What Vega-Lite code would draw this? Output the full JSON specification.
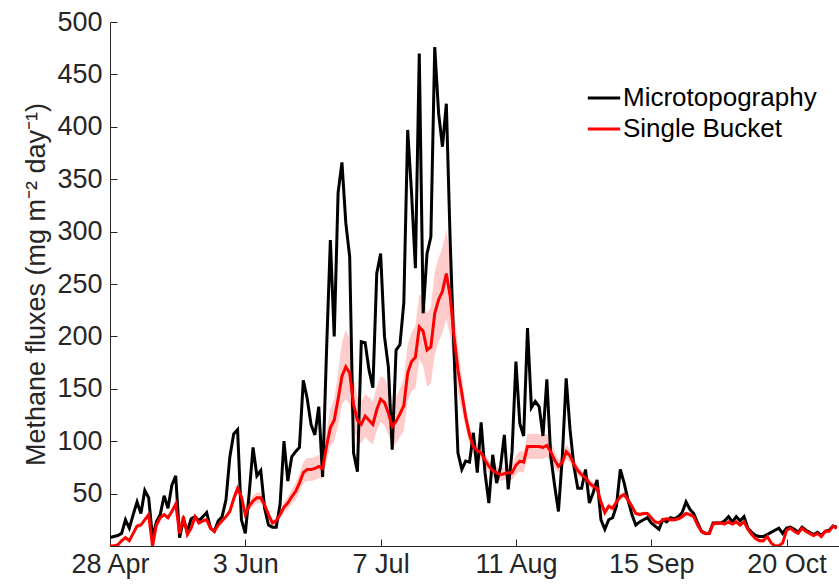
{
  "$schema": "https://vega.github.io/schema/vega-lite/v6.json",
  "width": 729,
  "height": 524,
  "autosize": {"type": "none"},
  "padding": {"left": 110, "top": 22, "right": 0, "bottom": 41},
  "background": "white",
  "config": {
    "view": {"stroke": null},
    "font": "Liberation Sans",
    "axis": {
      "grid": false,
      "domainColor": "#262626",
      "domainWidth": 1,
      "tickColor": "#262626",
      "tickSize": -7,
      "labelColor": "#262626",
      "labelFont": "Liberation Sans",
      "labelFontSize": 27,
      "labelFlush": false,
      "titleFont": "Liberation Sans",
      "titleFontSize": 27,
      "titleFontWeight": "normal",
      "titleColor": "#262626"
    }
  },
  "data": {"values": [
    {"d":"2015-04-28","m":8,"s":0,"lo":0,"hi":2},
    {"d":"2015-04-29","m":9,"s":0,"lo":0,"hi":2},
    {"d":"2015-04-30","m":10,"s":1,"lo":0,"hi":3},
    {"d":"2015-05-01","m":12,"s":5,"lo":3,"hi":7},
    {"d":"2015-05-02","m":25,"s":8,"lo":6,"hi":10},
    {"d":"2015-05-03","m":17,"s":5,"lo":3,"hi":7},
    {"d":"2015-05-04","m":30,"s":12,"lo":10,"hi":14},
    {"d":"2015-05-05","m":42,"s":19,"lo":17,"hi":21},
    {"d":"2015-05-06","m":31,"s":20,"lo":18,"hi":22},
    {"d":"2015-05-07","m":53,"s":25,"lo":23,"hi":27},
    {"d":"2015-05-08","m":46,"s":30,"lo":28,"hi":32},
    {"d":"2015-05-09","m":8,"s":0,"lo":0,"hi":2},
    {"d":"2015-05-10","m":23,"s":20,"lo":18,"hi":22},
    {"d":"2015-05-11","m":30,"s":27,"lo":25,"hi":29},
    {"d":"2015-05-12","m":48,"s":30,"lo":28,"hi":32},
    {"d":"2015-05-13","m":36,"s":27,"lo":25,"hi":29},
    {"d":"2015-05-14","m":58,"s":33,"lo":31,"hi":35},
    {"d":"2015-05-15","m":67,"s":40,"lo":38,"hi":42},
    {"d":"2015-05-16","m":8,"s":12,"lo":10,"hi":14},
    {"d":"2015-05-17","m":25,"s":28,"lo":26,"hi":30},
    {"d":"2015-05-18","m":14,"s":11,"lo":9,"hi":13},
    {"d":"2015-05-19","m":26,"s":17,"lo":15,"hi":19},
    {"d":"2015-05-20","m":28,"s":28,"lo":26,"hi":30},
    {"d":"2015-05-21","m":24,"s":22,"lo":20,"hi":24},
    {"d":"2015-05-22","m":28,"s":24,"lo":22,"hi":26},
    {"d":"2015-05-23","m":32,"s":25,"lo":23,"hi":27},
    {"d":"2015-05-24","m":17,"s":17,"lo":15,"hi":19},
    {"d":"2015-05-25","m":14,"s":14,"lo":12,"hi":16},
    {"d":"2015-05-26","m":24,"s":20,"lo":18,"hi":22},
    {"d":"2015-05-27","m":28,"s":24,"lo":22,"hi":26},
    {"d":"2015-05-28","m":44,"s":28,"lo":26,"hi":30},
    {"d":"2015-05-29","m":85,"s":33,"lo":29,"hi":37},
    {"d":"2015-05-30","m":107,"s":45,"lo":41,"hi":49},
    {"d":"2015-05-31","m":111,"s":55,"lo":50,"hi":60},
    {"d":"2015-06-01","m":25,"s":47,"lo":43,"hi":51},
    {"d":"2015-06-02","m":12,"s":30,"lo":26,"hi":34},
    {"d":"2015-06-03","m":50,"s":38,"lo":34,"hi":42},
    {"d":"2015-06-04","m":94,"s":43,"lo":38,"hi":48},
    {"d":"2015-06-05","m":67,"s":46,"lo":41,"hi":51},
    {"d":"2015-06-06","m":72,"s":46,"lo":41,"hi":51},
    {"d":"2015-06-07","m":36,"s":39,"lo":35,"hi":43},
    {"d":"2015-06-08","m":20,"s":30,"lo":27,"hi":33},
    {"d":"2015-06-09","m":18,"s":22,"lo":19,"hi":25},
    {"d":"2015-06-10","m":18,"s":24,"lo":21,"hi":27},
    {"d":"2015-06-11","m":40,"s":30,"lo":27,"hi":33},
    {"d":"2015-06-12","m":100,"s":37,"lo":32,"hi":42},
    {"d":"2015-06-13","m":62,"s":41,"lo":35,"hi":47},
    {"d":"2015-06-14","m":85,"s":47,"lo":40,"hi":54},
    {"d":"2015-06-15","m":90,"s":52,"lo":44,"hi":60},
    {"d":"2015-06-16","m":94,"s":60,"lo":51,"hi":69},
    {"d":"2015-06-17","m":158,"s":70,"lo":60,"hi":80},
    {"d":"2015-06-18","m":141,"s":73,"lo":62,"hi":84},
    {"d":"2015-06-19","m":116,"s":73,"lo":62,"hi":84},
    {"d":"2015-06-20","m":106,"s":74,"lo":63,"hi":85},
    {"d":"2015-06-21","m":133,"s":76,"lo":65,"hi":87},
    {"d":"2015-06-22","m":66,"s":74,"lo":64,"hi":84},
    {"d":"2015-06-23","m":185,"s":95,"lo":80,"hi":110},
    {"d":"2015-06-24","m":292,"s":113,"lo":95,"hi":131},
    {"d":"2015-06-25","m":200,"s":120,"lo":100,"hi":140},
    {"d":"2015-06-26","m":337,"s":140,"lo":115,"hi":165},
    {"d":"2015-06-27","m":366,"s":162,"lo":135,"hi":195},
    {"d":"2015-06-28","m":308,"s":171,"lo":140,"hi":206},
    {"d":"2015-06-29","m":276,"s":165,"lo":135,"hi":198},
    {"d":"2015-06-30","m":89,"s":135,"lo":112,"hi":160},
    {"d":"2015-07-01","m":71,"s":120,"lo":100,"hi":142},
    {"d":"2015-07-02","m":195,"s":116,"lo":98,"hi":138},
    {"d":"2015-07-03","m":194,"s":124,"lo":104,"hi":145},
    {"d":"2015-07-04","m":168,"s":120,"lo":100,"hi":142},
    {"d":"2015-07-05","m":151,"s":116,"lo":97,"hi":138},
    {"d":"2015-07-06","m":260,"s":130,"lo":110,"hi":152},
    {"d":"2015-07-07","m":279,"s":140,"lo":118,"hi":162},
    {"d":"2015-07-08","m":200,"s":137,"lo":115,"hi":160},
    {"d":"2015-07-09","m":171,"s":127,"lo":106,"hi":150},
    {"d":"2015-07-10","m":92,"s":114,"lo":95,"hi":136},
    {"d":"2015-07-11","m":187,"s":119,"lo":98,"hi":142},
    {"d":"2015-07-12","m":192,"s":126,"lo":104,"hi":150},
    {"d":"2015-07-13","m":232,"s":134,"lo":110,"hi":160},
    {"d":"2015-07-14","m":397,"s":165,"lo":138,"hi":192},
    {"d":"2015-07-15","m":337,"s":176,"lo":148,"hi":204},
    {"d":"2015-07-16","m":265,"s":180,"lo":150,"hi":210},
    {"d":"2015-07-17","m":470,"s":209,"lo":178,"hi":240},
    {"d":"2015-07-18","m":222,"s":205,"lo":172,"hi":238},
    {"d":"2015-07-19","m":279,"s":187,"lo":152,"hi":222},
    {"d":"2015-07-20","m":295,"s":190,"lo":155,"hi":228},
    {"d":"2015-07-21","m":476,"s":222,"lo":182,"hi":262},
    {"d":"2015-07-22","m":413,"s":235,"lo":195,"hi":275},
    {"d":"2015-07-23","m":381,"s":243,"lo":203,"hi":285},
    {"d":"2015-07-24","m":422,"s":260,"lo":216,"hi":302},
    {"d":"2015-07-25","m":290,"s":238,"lo":200,"hi":276},
    {"d":"2015-07-26","m":184,"s":200,"lo":172,"hi":228},
    {"d":"2015-07-27","m":89,"s":168,"lo":146,"hi":190},
    {"d":"2015-07-28","m":73,"s":146,"lo":130,"hi":162},
    {"d":"2015-07-29","m":81,"s":123,"lo":112,"hi":134},
    {"d":"2015-07-30","m":80,"s":106,"lo":97,"hi":115},
    {"d":"2015-07-31","m":108,"s":95,"lo":87,"hi":103},
    {"d":"2015-08-01","m":70,"s":91,"lo":84,"hi":98},
    {"d":"2015-08-02","m":118,"s":89,"lo":82,"hi":96},
    {"d":"2015-08-03","m":70,"s":82,"lo":76,"hi":88},
    {"d":"2015-08-04","m":41,"s":76,"lo":70,"hi":82},
    {"d":"2015-08-05","m":87,"s":72,"lo":66,"hi":78},
    {"d":"2015-08-06","m":60,"s":70,"lo":64,"hi":76},
    {"d":"2015-08-07","m":75,"s":68,"lo":62,"hi":74},
    {"d":"2015-08-08","m":106,"s":69,"lo":63,"hi":75},
    {"d":"2015-08-09","m":54,"s":70,"lo":63,"hi":77},
    {"d":"2015-08-10","m":90,"s":70,"lo":63,"hi":77},
    {"d":"2015-08-11","m":176,"s":77,"lo":68,"hi":86},
    {"d":"2015-08-12","m":117,"s":81,"lo":71,"hi":91},
    {"d":"2015-08-13","m":105,"s":80,"lo":70,"hi":90},
    {"d":"2015-08-14","m":208,"s":95,"lo":83,"hi":107},
    {"d":"2015-08-15","m":132,"s":95,"lo":83,"hi":107},
    {"d":"2015-08-16","m":138,"s":95,"lo":83,"hi":107},
    {"d":"2015-08-17","m":133,"s":95,"lo":83,"hi":107},
    {"d":"2015-08-18","m":105,"s":94,"lo":83,"hi":105},
    {"d":"2015-08-19","m":159,"s":96,"lo":85,"hi":107},
    {"d":"2015-08-20","m":86,"s":90,"lo":80,"hi":100},
    {"d":"2015-08-21","m":58,"s":82,"lo":74,"hi":90},
    {"d":"2015-08-22","m":33,"s":76,"lo":70,"hi":82},
    {"d":"2015-08-23","m":85,"s":80,"lo":74,"hi":86},
    {"d":"2015-08-24","m":160,"s":90,"lo":83,"hi":97},
    {"d":"2015-08-25","m":111,"s":86,"lo":80,"hi":92},
    {"d":"2015-08-26","m":76,"s":78,"lo":73,"hi":83},
    {"d":"2015-08-27","m":55,"s":72,"lo":67,"hi":77},
    {"d":"2015-08-28","m":55,"s":68,"lo":64,"hi":72},
    {"d":"2015-08-29","m":73,"s":65,"lo":61,"hi":69},
    {"d":"2015-08-30","m":41,"s":60,"lo":56,"hi":64},
    {"d":"2015-08-31","m":51,"s":57,"lo":53,"hi":61},
    {"d":"2015-09-01","m":63,"s":55,"lo":52,"hi":58},
    {"d":"2015-09-02","m":25,"s":42,"lo":39,"hi":45},
    {"d":"2015-09-03","m":16,"s":32,"lo":29,"hi":35},
    {"d":"2015-09-04","m":25,"s":38,"lo":35,"hi":41},
    {"d":"2015-09-05","m":27,"s":36,"lo":33,"hi":39},
    {"d":"2015-09-06","m":38,"s":42,"lo":39,"hi":45},
    {"d":"2015-09-07","m":73,"s":47,"lo":44,"hi":50},
    {"d":"2015-09-08","m":60,"s":49,"lo":46,"hi":52},
    {"d":"2015-09-09","m":44,"s":44,"lo":41,"hi":47},
    {"d":"2015-09-10","m":30,"s":38,"lo":35,"hi":41},
    {"d":"2015-09-11","m":20,"s":31,"lo":29,"hi":33},
    {"d":"2015-09-12","m":23,"s":30,"lo":28,"hi":32},
    {"d":"2015-09-13","m":25,"s":31,"lo":29,"hi":33},
    {"d":"2015-09-14","m":27,"s":31,"lo":29,"hi":33},
    {"d":"2015-09-15","m":22,"s":27,"lo":25,"hi":29},
    {"d":"2015-09-16","m":19,"s":23,"lo":21,"hi":25},
    {"d":"2015-09-17","m":16,"s":22,"lo":20,"hi":24},
    {"d":"2015-09-18","m":25,"s":25,"lo":23,"hi":27},
    {"d":"2015-09-19","m":23,"s":26,"lo":24,"hi":28},
    {"d":"2015-09-20","m":27,"s":25,"lo":23,"hi":27},
    {"d":"2015-09-21","m":26,"s":25,"lo":23,"hi":27},
    {"d":"2015-09-22","m":28,"s":26,"lo":24,"hi":28},
    {"d":"2015-09-23","m":32,"s":28,"lo":26,"hi":30},
    {"d":"2015-09-24","m":42,"s":31,"lo":29,"hi":33},
    {"d":"2015-09-25","m":35,"s":30,"lo":28,"hi":32},
    {"d":"2015-09-26","m":31,"s":28,"lo":26,"hi":30},
    {"d":"2015-09-27","m":22,"s":20,"lo":18,"hi":22},
    {"d":"2015-09-28","m":14,"s":14,"lo":12,"hi":16},
    {"d":"2015-09-29","m":12,"s":12,"lo":10,"hi":14},
    {"d":"2015-09-30","m":12,"s":12,"lo":10,"hi":14},
    {"d":"2015-10-01","m":22,"s":21,"lo":19,"hi":23},
    {"d":"2015-10-02","m":22,"s":22,"lo":20,"hi":24},
    {"d":"2015-10-03","m":22,"s":22,"lo":20,"hi":24},
    {"d":"2015-10-04","m":24,"s":21,"lo":19,"hi":23},
    {"d":"2015-10-05","m":28,"s":23,"lo":21,"hi":25},
    {"d":"2015-10-06","m":23,"s":21,"lo":19,"hi":23},
    {"d":"2015-10-07","m":28,"s":23,"lo":21,"hi":25},
    {"d":"2015-10-08","m":24,"s":20,"lo":18,"hi":22},
    {"d":"2015-10-09","m":28,"s":23,"lo":21,"hi":25},
    {"d":"2015-10-10","m":17,"s":16,"lo":14,"hi":18},
    {"d":"2015-10-11","m":13,"s":11,"lo":9,"hi":13},
    {"d":"2015-10-12","m":10,"s":7,"lo":5,"hi":9},
    {"d":"2015-10-13","m":9,"s":5,"lo":3,"hi":7},
    {"d":"2015-10-14","m":9,"s":5,"lo":3,"hi":7},
    {"d":"2015-10-15","m":11,"s":9,"lo":7,"hi":11},
    {"d":"2015-10-16","m":13,"s":3,"lo":1,"hi":5},
    {"d":"2015-10-17","m":15,"s":0,"lo":0,"hi":2},
    {"d":"2015-10-18","m":17,"s":0,"lo":0,"hi":2},
    {"d":"2015-10-19","m":12,"s":3,"lo":1,"hi":5},
    {"d":"2015-10-20","m":17,"s":15,"lo":13,"hi":17},
    {"d":"2015-10-21","m":18,"s":17,"lo":15,"hi":19},
    {"d":"2015-10-22","m":16,"s":14,"lo":12,"hi":16},
    {"d":"2015-10-23","m":13,"s":12,"lo":10,"hi":14},
    {"d":"2015-10-24","m":18,"s":17,"lo":15,"hi":19},
    {"d":"2015-10-25","m":15,"s":14,"lo":12,"hi":16},
    {"d":"2015-10-26","m":13,"s":12,"lo":10,"hi":14},
    {"d":"2015-10-27","m":11,"s":10,"lo":8,"hi":12},
    {"d":"2015-10-28","m":13,"s":12,"lo":10,"hi":14},
    {"d":"2015-10-29","m":10,"s":9,"lo":7,"hi":11},
    {"d":"2015-10-30","m":14,"s":14,"lo":12,"hi":16},
    {"d":"2015-10-31","m":15,"s":14,"lo":12,"hi":16},
    {"d":"2015-11-01","m":19,"s":19,"lo":17,"hi":21},
    {"d":"2015-11-02","m":18,"s":17,"lo":15,"hi":19}
  ]},
  "encoding": {
    "x": {
      "field": "d",
      "type": "temporal",
      "scale": {
        "type": "utc",
        "domain": [
          {"year": 2015, "month": "apr", "date": 28, "utc": true},
          {"year": 2015, "month": "nov", "date": 2, "hours": 13, "minutes": 40, "utc": true}
        ]
      },
      "axis": {
        "title": null,
        "values": [
          {"year": 2015, "month": "apr", "date": 28, "utc": true},
          {"year": 2015, "month": "jun", "date": 2, "utc": true},
          {"year": 2015, "month": "jul", "date": 7, "utc": true},
          {"year": 2015, "month": "aug", "date": 11, "utc": true},
          {"year": 2015, "month": "sep", "date": 15, "utc": true},
          {"year": 2015, "month": "oct", "date": 20, "utc": true}
        ],
        "labelExpr": "utcmonth(datum.value) == 5 ? '3 Jun' : utcFormat(datum.value, '%-d %b')",
        "labelPadding": 12
      }
    }
  },
  "layer": [
    {
      "mark": {"type": "area", "color": "#ff0000", "opacity": 0.2, "clip": true},
      "encoding": {
        "y": {"field": "lo", "type": "quantitative"},
        "y2": {"field": "hi"}
      }
    },
    {
      "mark": {"type": "line", "strokeWidth": 3, "clip": true},
      "encoding": {
        "y": {
          "field": "m",
          "type": "quantitative",
          "scale": {"domain": [0, 500], "nice": false},
          "axis": {
            "title": "Methane fluxes (mg m⁻² day⁻¹)",
            "values": [50, 100, 150, 200, 250, 300, 350, 400, 450, 500],
            "labelPadding": 15,
            "titlePadding": 6
          }
        },
        "color": {
          "datum": "Microtopography",
          "type": "nominal",
          "scale": {"domain": ["Microtopography", "Single Bucket"], "range": ["#000000", "#ff0000"]},
          "legend": {
            "title": null,
            "orient": "none",
            "legendX": 476,
            "legendY": 58,
            "symbolType": "stroke",
            "symbolSize": 1050,
            "symbolStrokeWidth": 3,
            "labelFont": "Liberation Sans",
            "labelFontSize": 26,
            "labelColor": "#000000",
            "labelLimit": 0,
            "labelOffset": 1,
            "rowPadding": 0,
            "padding": 0
          }
        }
      }
    },
    {
      "mark": {"type": "line", "strokeWidth": 3, "clip": true},
      "encoding": {
        "y": {"field": "s", "type": "quantitative"},
        "color": {"datum": "Single Bucket", "type": "nominal"}
      }
    }
  ]
}
